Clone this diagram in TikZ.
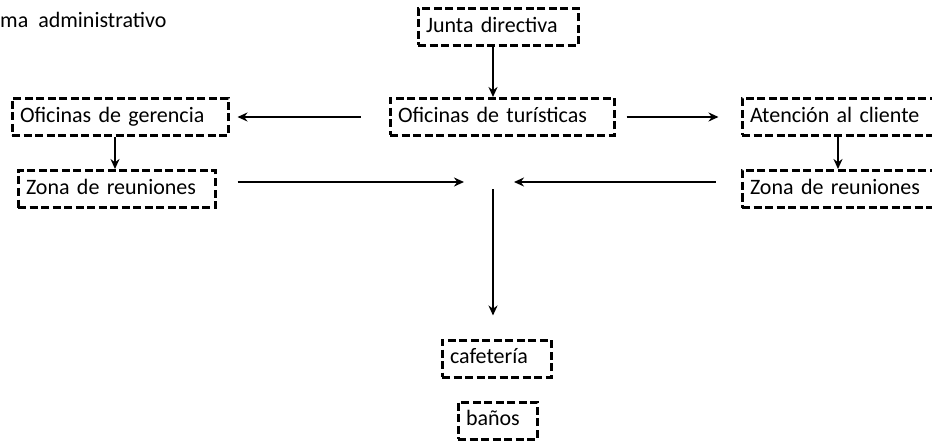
\documentclass[tikz,border=0pt]{standalone}
\usepackage{fontspec}
\setmainfont{Carlito}
\usetikzlibrary{arrows.meta}
\begin{document}
\begin{tikzpicture}[x=1pt,y=-1pt,
  dbox/.style={draw=black, line width=3pt, dash pattern=on 8pt off 3.5pt,
    minimum height=37pt, inner xsep=8pt, inner ysep=0pt, align=left,
    font=\fontsize{22}{24}\selectfont, text height=15pt, text depth=4.5pt},
  conn/.style={line width=2.6pt, -{Stealth[length=10pt,width=9pt]}}]
\useasboundingbox (0,0) rectangle (932,441);
\node[anchor=west, inner sep=0pt, font=\fontsize{22}{24}\selectfont] (title) at (0,20) {ma\ \ administrativo};
\node[dbox, text width=144pt] (junta) at (498,27) {Junta directiva};
\node[dbox, text width=208pt] (tur) at (502,117) {Oficinas de turísticas};
\node[dbox, text width=200pt] (ger) at (120,117) {Oficinas de gerencia};
\node[dbox, text width=181pt] (zonaL) at (116.5,189) {Zona de reuniones};
\node[dbox, text width=184pt] (aten) at (842,117) {Atención al cliente};
\node[dbox, text width=184pt] (zonaR) at (842,189) {Zona de reuniones};
\node[dbox, text width=93pt] (caf) at (496.5,358.5) {cafetería};
\node[dbox, text width=63pt] (banos) at (497.5,420.5) {baños};
\coordinate (ctr) at (488,182);
\draw[conn] (junta.south -| 493,0) -- (tur.north -| 493,0);
\draw[conn] ([xshift=-28pt]tur.west) -- ([xshift=8pt]ger.east);
\draw[conn] ([xshift=11pt]tur.east) -- ([xshift=-22pt]aten.west);
\draw[conn] (ger.south -| 115,0) -- (zonaL.north -| 115,0);
\draw[conn] (aten.south -| 838,0) -- (zonaR.north -| 838,0);
\draw[conn] ([xshift=21pt]zonaL.east |- ctr) -- ([xshift=-24pt]ctr);
\draw[conn] ([xshift=-25pt]zonaR.west |- ctr) -- ([xshift=26pt]ctr);
\draw[conn] ([xshift=5pt,yshift=-7pt]ctr) -- ([yshift=23pt]caf.north -| 493,0);
\end{tikzpicture}
\end{document}
